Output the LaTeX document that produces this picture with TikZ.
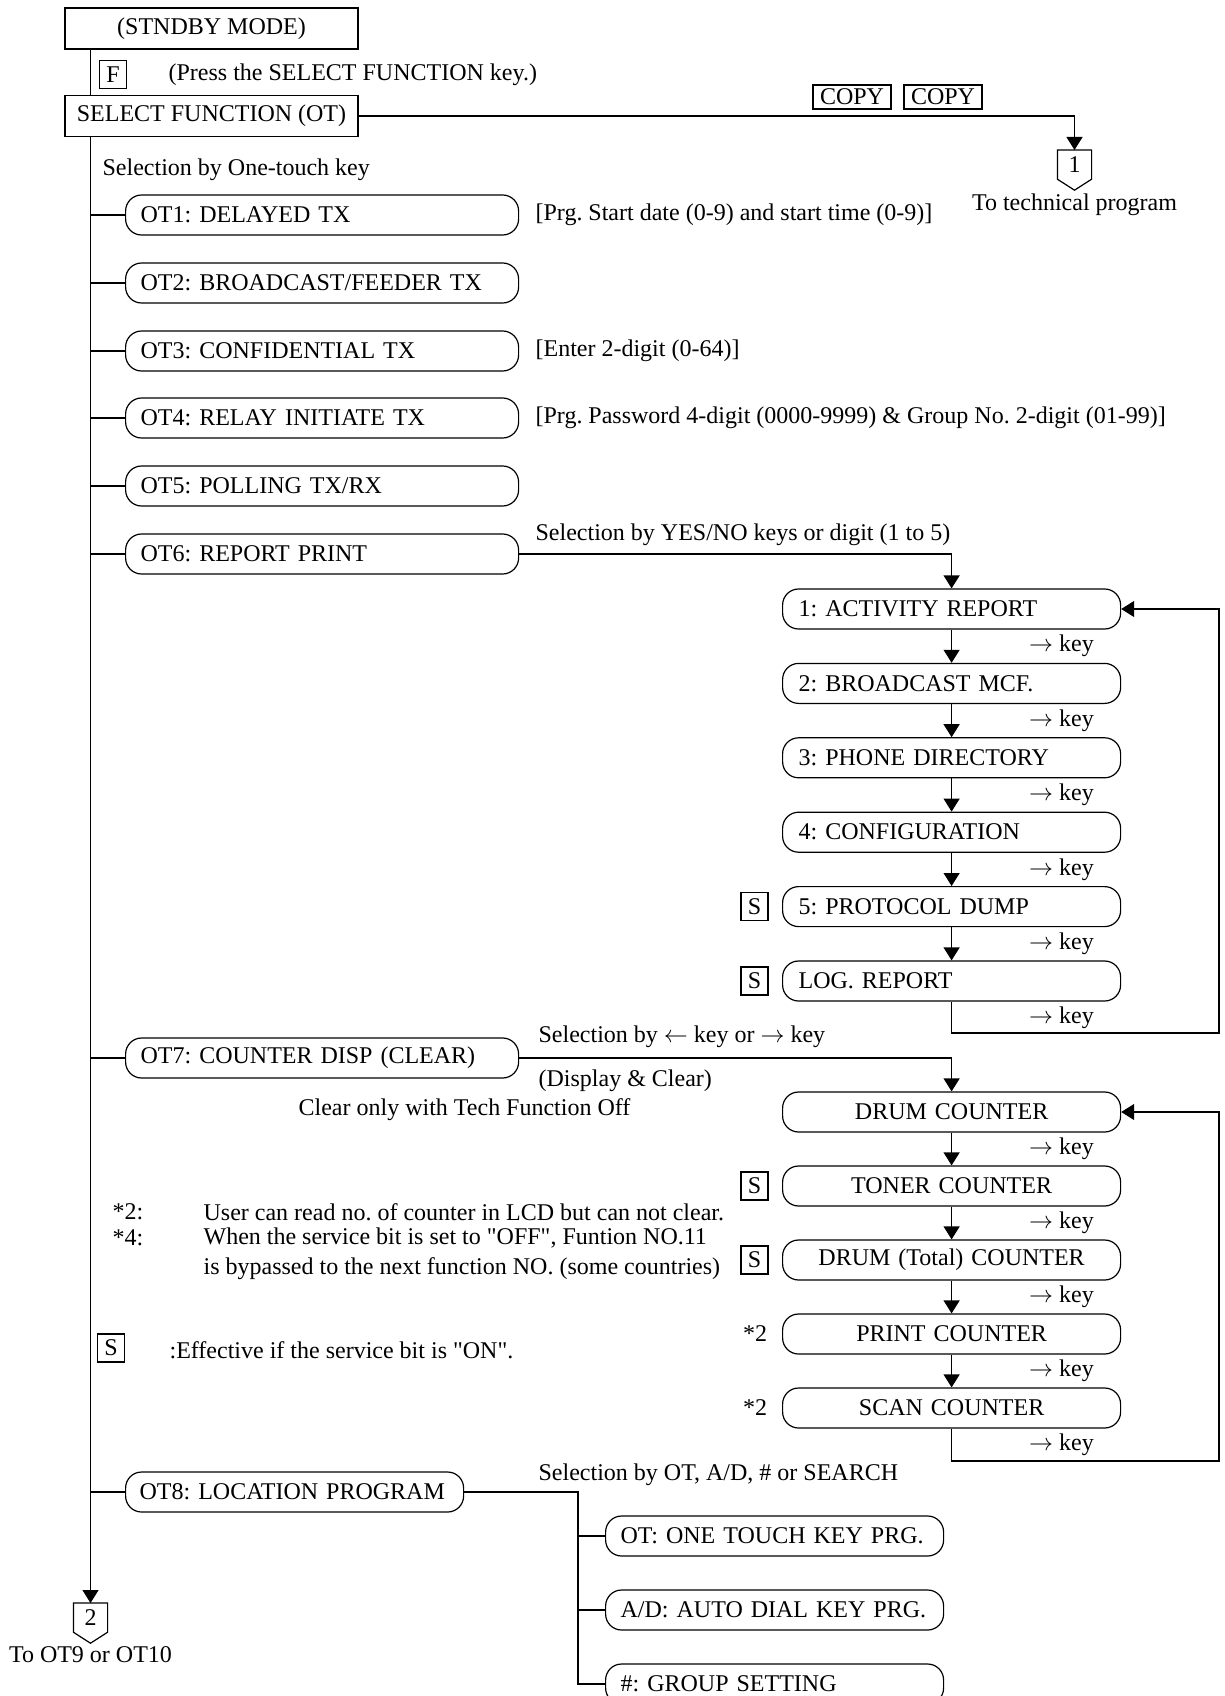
\documentclass[tikz,border=0pt]{standalone}
\usepackage{fontspec}
\setmainfont{Liberation Serif}
\newfontfamily\qfont{Liberation Serif}
\usetikzlibrary{arrows.meta}

\begin{document}
\begin{tikzpicture}[x=0.5pt, y=-0.5pt, line width=0.6pt,
    font=\fontsize{12}{14}\selectfont\frenchspacing,
    >={Triangle[length=6.5pt,width=8pt]},
    modebox/.style={draw, minimum width=146.5pt, minimum height=20.5pt, inner sep=0pt},
    keybox/.style={draw, minimum width=13.5pt, minimum height=14pt, inner sep=0.5pt},
    copybox/.style={draw, minimum width=39pt, minimum height=12pt, inner sep=1pt},
    otbox/.style={draw, rounded corners=8pt, minimum height=20pt, inner xsep=7.5pt,
        inner ysep=0pt, text width=181.5pt, align=left, anchor=west},
    subbox/.style={otbox, inner xsep=8pt, text width=153pt},
    cntbox/.style={subbox, align=center},
    offpage/.style={minimum width=16.5pt, minimum height=14pt, inner sep=0pt, anchor=north},
    txt/.style={anchor=west, inner sep=0pt},
    keylbl/.style={txt}]

    \useasboundingbox (0,0) rectangle (1225,1696);

    % Mode veille et selection de fonction
    \node[modebox] (stby) at (211.5,28.5) {(STNDBY MODE)};
    \node[keybox] (fkey) at (113,74.5) {F};
    \node[txt] (press) at (168,75) {(Press the SELECT FUNCTION key.)};
    \node[modebox] (selfn) at (211.5,116) {SELECT FUNCTION (OT)};

    % Vers le programme technique
    \node[copybox] (copy1) at (852,97) {COPY};
    \node[copybox] (copy2) at (943,97) {COPY};
    \node[offpage] (con1) at (1074.5,150) {1};
    \node (tech) at (1074.5,205) {To technical program};
    \draw[->] (selfn.east) -| (con1.north);

    % Ligne principale
    \node[txt] (selone) at (102,170) {Selection by One-touch key};
    \node[offpage] (con2) at (90.5,1603) {2};
    \node (toot) at (90.5,1655) {To OT9 or OT10};
    \draw (stby.south -| con2.north) -- (selfn.north -| con2.north);
    \draw[->] (selfn.south -| con2.north) -- (con2.north);

    % Renvois (pentagones)
    \foreach \c in {con1,con2}
        \draw (\c.north west) -- (\c.north east) -- (\c.south east)
            -- ([yshift=-5.5pt]\c.south) -- (\c.south west) -- cycle;

    % Fonctions OT
    \node[otbox] (ot1) at (125,215) {OT1: DELAYED TX};
    \node[otbox] (ot2) at (125,283) {OT2: BROADCAST/FEEDER TX};
    \node[otbox] (ot3) at (125,351) {OT3: CONFIDENTIAL TX};
    \node[otbox] (ot4) at (125,418) {OT4: RELAY INITIATE TX};
    \node[otbox] (ot5) at (125,486) {OT5: POLLING TX/RX};
    \node[otbox] (ot6) at (125,554) {OT6: REPORT PRINT};
    \node[otbox] (ot7) at (125,1058) {OT7: COUNTER DISP (CLEAR)};
    \node[subbox, inner xsep=7pt, text width=155pt] (ot8) at (125,1492) {OT8: LOCATION PROGRAM};
    \foreach \n in {1,...,8}
        \draw (con2.north |- ot\n.west) -- (ot\n.west);

    \node[txt] (n1) at (535,215) {[Prg. Start date (0-9) and start time (0-9)]};
    \node[txt] (n3) at (535,351) {[Enter 2-digit (0-64)]};
    \node[txt] (n4) at (535,418) {[Prg. Password 4-digit (0000-9999) \& Group No. 2-digit (01-99)]};

    % OT6 : rapports
    \node[txt] (sel6) at (535,535) {Selection by YES/NO keys or digit (1 to 5)};
    \node[subbox] (r1) at (782,609) {1: ACTIVITY REPORT};
    \node[subbox] (r2) at (782,683.4) {2: BROADCAST MCF.};
    \node[subbox] (r3) at (782,757.8) {3: PHONE DIRECTORY};
    \node[subbox] (r4) at (782,832.2) {4: CONFIGURATION};
    \node[subbox] (r5) at (782,906.6) {5: PROTOCOL DUMP};
    \node[subbox] (r6) at (782,981) {LOG. REPORT};
    \node[keybox] (s5) at (754.5,906.6) {S};
    \node[keybox] (s6) at (754.5,981) {S};
    \coordinate (ret1) at (1219,1033);
    \draw[->] (ot6.east) -| (r1.north);
    \foreach \a/\b in {r1/r2,r2/r3,r3/r4,r4/r5,r5/r6}
        \draw[->] (\a.south) -- (\b.north) node[keylbl, midway, xshift=38.5pt] {$\rightarrow$ key};
    \draw[->] (r6.south) -- (r6.south |- ret1) node[keylbl, midway, xshift=38.5pt] {$\rightarrow$ key}
        -- (ret1) |- (r1.east);

    % OT7 : compteurs
    \node[txt] (sel7) at (538,1037) {Selection by $\leftarrow$ key or $\rightarrow$ key};
    \node[txt] (disp) at (538,1081) {(Display \& Clear)};
    \node[txt] (clr) at (298,1110) {Clear only with Tech Function Off};
    \node[cntbox] (c1) at (782,1112) {DRUM COUNTER};
    \node[cntbox] (c2) at (782,1186) {TONER COUNTER};
    \node[cntbox] (c3) at (782,1260) {DRUM (Total) COUNTER};
    \node[cntbox] (c4) at (782,1334) {PRINT COUNTER};
    \node[cntbox] (c5) at (782,1408) {SCAN COUNTER};
    \node[keybox] (s2) at (754.5,1186) {S};
    \node[keybox] (s3) at (754.5,1260) {S};
    \node (m4) at (755,1334) {*2};
    \node (m5) at (755,1408) {*2};
    \coordinate (ret2) at (1219,1461);
    \draw[->] (ot7.east) -| (c1.north);
    \foreach \a/\b in {c1/c2,c2/c3,c3/c4,c4/c5}
        \draw[->] (\a.south) -- (\b.north) node[keylbl, midway, xshift=38.5pt] {$\rightarrow$ key};
    \draw[->] (c5.south) -- (c5.south |- ret2) node[keylbl, midway, xshift=38.5pt] {$\rightarrow$ key}
        -- (ret2) |- (c1.east);

    % Notes
    \node[txt] (f2) at (112,1212) {*2:};
    \node[txt] (f2t) at (203,1212) {User can read no. of counter in LCD but can not clear.};
    \node[txt] (f4) at (112,1238) {*4:};
    \node[txt] (f4t) at (203,1238) {When the service bit is set to {\qfont"OFF"}, Funtion NO.11};
    \node[txt] (f4u) at (203,1269) {is bypassed to the next function NO. (some countries)};
    \node[keybox] (legs) at (111,1348) {S};
    \node[txt] (legt) at (169,1350) {:Effective if the service bit is {\qfont"ON"}.};

    % OT8 : programme d'emplacement
    \node[txt] (sel8) at (538,1475) {Selection by OT, A/D, \# or SEARCH};
    \coordinate (bus) at (578,1492);
    \node[subbox, inner xsep=7.5pt, text width=154pt] (a1) at (605,1536) {OT: ONE TOUCH KEY PRG.};
    \node[subbox, inner xsep=7.5pt, text width=154pt] (a2) at (605,1610) {A/D: AUTO DIAL KEY PRG.};
    \node[subbox, inner xsep=7.5pt, text width=154pt] (a3) at (605,1684) {\#: GROUP SETTING};
    \draw (ot8.east) -- (bus) |- (a3.west);
    \draw (bus |- a1.west) -- (a1.west);
    \draw (bus |- a2.west) -- (a2.west);

\end{tikzpicture}
\end{document}
